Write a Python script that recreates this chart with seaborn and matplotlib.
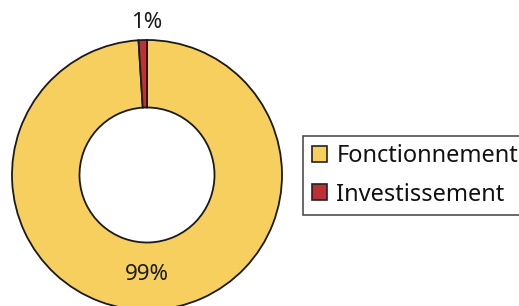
import matplotlib
matplotlib.use("Agg")
import matplotlib.pyplot as plt
import seaborn as sns
from matplotlib.patches import Patch

# data
categories = ["Fonctionnement", "Investissement"]
shares = [99, 1]
labels_pct = ["99%", "1%"]
colors = ["#F6CF5E", "#BC3137"]

sns.set_theme(style="white")
plt.rcParams["font.family"] = ["Noto Sans", "DejaVu Sans"]

fig = plt.figure(figsize=(5.19, 3.06), dpi=100)
W, H = 519, 306
cx, cy, r = 147, 306 - 175, 135
ax = fig.add_axes([(cx - r) / W, (cy - r) / H, 2 * r / W, 2 * r / H])

wedges, _ = ax.pie(shares, colors=colors, startangle=90, counterclock=False,
                   radius=1.0,
                   wedgeprops=dict(width=0.5, edgecolor="#1a1a1a", linewidth=1.3))
ax.set_xlim(-1, 1)
ax.set_ylim(-1, 1)
ax.set_aspect("equal")
ax.axis("off")

# percentage labels
ax.text(0, -0.74, labels_pct[0], ha="center", va="center",
        fontsize=16, color="#1a1a1a")
ax.text(0, 1.13, labels_pct[1], ha="center", va="center",
        fontsize=16, color="#1a1a1a", clip_on=False)

handles = [Patch(facecolor=c, edgecolor="#222222", linewidth=1.2) for c in colors]
leg = fig.legend(handles, categories, loc="upper left",
                 bbox_to_anchor=(303 / W, 1 - 136 / H),
                 frameon=True, fancybox=False, fontsize=17,
                 handlelength=0.65, handleheight=0.65, handletextpad=0.4,
                 labelspacing=0.6, borderpad=0.36, borderaxespad=0)
leg.get_frame().set_edgecolor("#222222")
leg.get_frame().set_linewidth(1.2)
for t in leg.get_texts():
    t.set_color("#111111")

fig.savefig("out.png", dpi=100)
